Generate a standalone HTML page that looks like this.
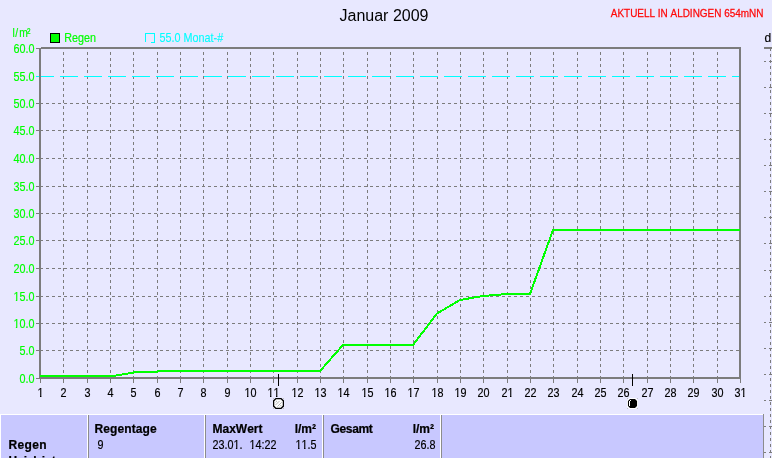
<!DOCTYPE html>
<html lang="de"><head><meta charset="utf-8"><title>Januar 2009 - Regen</title>
<style>
html,body{margin:0;padding:0;background:#e8e8ff;overflow:hidden}
svg{display:block;will-change:transform}
text{font-family:"Liberation Sans",sans-serif;font-size:12px;font-kerning:none}
.g{fill:#00ff00;stroke:#00ff00;stroke-width:.16px}.c{fill:#00ffff;stroke:#00ffff;stroke-width:.1px}.k{fill:#000;stroke:#000;stroke-width:.18px}
.b{font-weight:bold;fill:#000;stroke:#000;stroke-width:.22px}
.t{font-size:16px;fill:#000}
.r{font-size:11px;fill:#ff0808;stroke:#ff0808;stroke-width:.25px}
</style></head><body>
<svg width="772" height="458" viewBox="0 0 772 458">
<defs><clipPath id="k0"><rect x="-25.36" y="-12" width="27.36" height="11"/><rect x="-20.61" y="-1.2" width="1.6" height="1.4"/><rect x="-16.68" y="-1.2" width="6.67" height="5"/><rect x="-10.01" y="-1.2" width="3.33" height="5"/><rect x="-6.67" y="-1.2" width="6.67" height="5"/></clipPath><clipPath id="k1"><rect x="-25.36" y="-12" width="27.36" height="11"/><rect x="-20.61" y="-1.2" width="1.6" height="1.4"/><rect x="-16.68" y="-1.2" width="6.67" height="5"/><rect x="-10.01" y="-1.2" width="3.33" height="5"/><rect x="-6.67" y="-1.2" width="6.67" height="5"/></clipPath><clipPath id="k2"><rect x="-5.34" y="-12" width="10.67" height="11"/><rect x="-0.59" y="-1.2" width="1.6" height="1.4"/></clipPath><clipPath id="k3"><rect x="-8.67" y="-12" width="17.35" height="11"/><rect x="-3.92" y="-1.2" width="1.6" height="1.4"/><rect x="0" y="-1.2" width="6.67" height="5"/></clipPath><clipPath id="k4"><rect x="-8.67" y="-12" width="17.35" height="11"/><rect x="-3.92" y="-1.2" width="1.6" height="1.4"/><rect x="2.75" y="-1.2" width="1.6" height="1.4"/></clipPath><clipPath id="k5"><rect x="-8.67" y="-12" width="17.35" height="11"/><rect x="-3.92" y="-1.2" width="1.6" height="1.4"/><rect x="0" y="-1.2" width="6.67" height="5"/></clipPath><clipPath id="k6"><rect x="-8.67" y="-12" width="17.35" height="11"/><rect x="-3.92" y="-1.2" width="1.6" height="1.4"/><rect x="0" y="-1.2" width="6.67" height="5"/></clipPath><clipPath id="k7"><rect x="-8.67" y="-12" width="17.35" height="11"/><rect x="-3.92" y="-1.2" width="1.6" height="1.4"/><rect x="0" y="-1.2" width="6.67" height="5"/></clipPath><clipPath id="k8"><rect x="-8.67" y="-12" width="17.35" height="11"/><rect x="-3.92" y="-1.2" width="1.6" height="1.4"/><rect x="0" y="-1.2" width="6.67" height="5"/></clipPath><clipPath id="k9"><rect x="-8.67" y="-12" width="17.35" height="11"/><rect x="-3.92" y="-1.2" width="1.6" height="1.4"/><rect x="0" y="-1.2" width="6.67" height="5"/></clipPath><clipPath id="k10"><rect x="-8.67" y="-12" width="17.35" height="11"/><rect x="-3.92" y="-1.2" width="1.6" height="1.4"/><rect x="0" y="-1.2" width="6.67" height="5"/></clipPath><clipPath id="k11"><rect x="-8.67" y="-12" width="17.35" height="11"/><rect x="-3.92" y="-1.2" width="1.6" height="1.4"/><rect x="0" y="-1.2" width="6.67" height="5"/></clipPath><clipPath id="k12"><rect x="-8.67" y="-12" width="17.35" height="11"/><rect x="-3.92" y="-1.2" width="1.6" height="1.4"/><rect x="0" y="-1.2" width="6.67" height="5"/></clipPath><clipPath id="k13"><rect x="-8.67" y="-12" width="17.35" height="11"/><rect x="-6.67" y="-1.2" width="6.67" height="5"/><rect x="2.75" y="-1.2" width="1.6" height="1.4"/></clipPath><clipPath id="k14"><rect x="-8.67" y="-12" width="17.35" height="11"/><rect x="-6.67" y="-1.2" width="6.67" height="5"/><rect x="2.75" y="-1.2" width="1.6" height="1.4"/></clipPath><clipPath id="k15"><rect x="-2" y="-12" width="37.36" height="11"/><rect x="0" y="-1.2" width="6.67" height="5"/><rect x="6.67" y="-1.2" width="6.67" height="5"/><rect x="13.35" y="-1.2" width="3.33" height="5"/><rect x="16.68" y="-1.2" width="6.67" height="5"/><rect x="26.11" y="-1.2" width="1.6" height="1.4"/><rect x="30.03" y="-1.2" width="3.33" height="5"/></clipPath><clipPath id="k16"><rect x="-2" y="-12" width="34.03" height="11"/><rect x="2.75" y="-1.2" width="1.6" height="1.4"/><rect x="6.67" y="-1.2" width="6.67" height="5"/><rect x="13.35" y="-1.2" width="3.33" height="5"/><rect x="16.68" y="-1.2" width="6.67" height="5"/><rect x="23.36" y="-1.2" width="6.67" height="5"/></clipPath><clipPath id="k17"><rect x="-25.36" y="-12" width="27.36" height="11"/><rect x="-20.61" y="-1.2" width="1.6" height="1.4"/><rect x="-13.93" y="-1.2" width="1.6" height="1.4"/><rect x="-10.01" y="-1.2" width="3.33" height="5"/><rect x="-6.67" y="-1.2" width="6.67" height="5"/></clipPath></defs>
<rect x="0" y="0" width="772" height="458" fill="#e8e8ff"/>
<g shape-rendering="crispEdges" stroke="#7c7c7c" stroke-width="1" stroke-dasharray="3 3">
<line x1="63.5" y1="379" x2="63.5" y2="49"/>
<line x1="87.5" y1="379" x2="87.5" y2="49"/>
<line x1="110.5" y1="379" x2="110.5" y2="49"/>
<line x1="133.5" y1="379" x2="133.5" y2="49"/>
<line x1="157.5" y1="379" x2="157.5" y2="49"/>
<line x1="180.5" y1="379" x2="180.5" y2="49"/>
<line x1="203.5" y1="379" x2="203.5" y2="49"/>
<line x1="227.5" y1="379" x2="227.5" y2="49"/>
<line x1="250.5" y1="379" x2="250.5" y2="49"/>
<line x1="273.5" y1="379" x2="273.5" y2="49"/>
<line x1="297.5" y1="379" x2="297.5" y2="49"/>
<line x1="320.5" y1="379" x2="320.5" y2="49"/>
<line x1="343.5" y1="379" x2="343.5" y2="49"/>
<line x1="367.5" y1="379" x2="367.5" y2="49"/>
<line x1="390.5" y1="379" x2="390.5" y2="49"/>
<line x1="413.5" y1="379" x2="413.5" y2="49"/>
<line x1="437.5" y1="379" x2="437.5" y2="49"/>
<line x1="460.5" y1="379" x2="460.5" y2="49"/>
<line x1="483.5" y1="379" x2="483.5" y2="49"/>
<line x1="507.5" y1="379" x2="507.5" y2="49"/>
<line x1="530.5" y1="379" x2="530.5" y2="49"/>
<line x1="553.5" y1="379" x2="553.5" y2="49"/>
<line x1="577.5" y1="379" x2="577.5" y2="49"/>
<line x1="600.5" y1="379" x2="600.5" y2="49"/>
<line x1="623.5" y1="379" x2="623.5" y2="49"/>
<line x1="647.5" y1="379" x2="647.5" y2="49"/>
<line x1="670.5" y1="379" x2="670.5" y2="49"/>
<line x1="693.5" y1="379" x2="693.5" y2="49"/>
<line x1="717.5" y1="379" x2="717.5" y2="49"/>
<line x1="40" y1="350.5" x2="739" y2="350.5"/>
<line x1="40" y1="323.5" x2="739" y2="323.5"/>
<line x1="40" y1="296.5" x2="739" y2="296.5"/>
<line x1="40" y1="268.5" x2="739" y2="268.5"/>
<line x1="40" y1="240.5" x2="739" y2="240.5"/>
<line x1="40" y1="213.5" x2="739" y2="213.5"/>
<line x1="40" y1="186.5" x2="739" y2="186.5"/>
<line x1="40" y1="158.5" x2="739" y2="158.5"/>
<line x1="40" y1="130.5" x2="739" y2="130.5"/>
<line x1="40" y1="103.5" x2="739" y2="103.5"/>
</g>
<line shape-rendering="crispEdges" x1="36" y1="76.5" x2="739" y2="76.5" stroke="#00ffff" stroke-width="1" stroke-dasharray="18 6"/>
<g shape-rendering="crispEdges" fill="#7c7c7c">
<rect x="41" y="47" width="700" height="2"/><rect x="39" y="377" width="702" height="2"/>
<rect x="39" y="48" width="2" height="331"/><rect x="739" y="47" width="2" height="332"/>
<rect x="36" y="378" width="3" height="1"/>
<rect x="36" y="350" width="3" height="1"/>
<rect x="36" y="323" width="3" height="1"/>
<rect x="36" y="296" width="3" height="1"/>
<rect x="36" y="268" width="3" height="1"/>
<rect x="36" y="240" width="3" height="1"/>
<rect x="36" y="213" width="3" height="1"/>
<rect x="36" y="186" width="3" height="1"/>
<rect x="36" y="158" width="3" height="1"/>
<rect x="36" y="130" width="3" height="1"/>
<rect x="36" y="103" width="3" height="1"/>
<rect x="36" y="48" width="3" height="1"/>
<rect x="40" y="379" width="1" height="4"/>
<rect x="63" y="379" width="1" height="4"/>
<rect x="87" y="379" width="1" height="4"/>
<rect x="110" y="379" width="1" height="4"/>
<rect x="133" y="379" width="1" height="4"/>
<rect x="157" y="379" width="1" height="4"/>
<rect x="180" y="379" width="1" height="4"/>
<rect x="203" y="379" width="1" height="4"/>
<rect x="227" y="379" width="1" height="4"/>
<rect x="250" y="379" width="1" height="4"/>
<rect x="273" y="379" width="1" height="4"/>
<rect x="297" y="379" width="1" height="4"/>
<rect x="320" y="379" width="1" height="4"/>
<rect x="343" y="379" width="1" height="4"/>
<rect x="367" y="379" width="1" height="4"/>
<rect x="390" y="379" width="1" height="4"/>
<rect x="413" y="379" width="1" height="4"/>
<rect x="437" y="379" width="1" height="4"/>
<rect x="460" y="379" width="1" height="4"/>
<rect x="483" y="379" width="1" height="4"/>
<rect x="507" y="379" width="1" height="4"/>
<rect x="530" y="379" width="1" height="4"/>
<rect x="553" y="379" width="1" height="4"/>
<rect x="577" y="379" width="1" height="4"/>
<rect x="600" y="379" width="1" height="4"/>
<rect x="623" y="379" width="1" height="4"/>
<rect x="647" y="379" width="1" height="4"/>
<rect x="670" y="379" width="1" height="4"/>
<rect x="693" y="379" width="1" height="4"/>
<rect x="717" y="379" width="1" height="4"/>
<rect x="740" y="379" width="1" height="4"/>
</g>
<polyline shape-rendering="crispEdges" fill="none" stroke="#00ff00" stroke-width="2" stroke-linejoin="miter" points="40,376 113.4,376 136.4,372 156.5,372 158.5,371 320,371 343,345 413,345 437,313.5 460,300 483,296 507,294 530,294 553,230 740,230"/>
<g shape-rendering="crispEdges" fill="#000"><rect x="278" y="374" width="1" height="12"/><rect x="632" y="374" width="1" height="12"/></g>
<g shape-rendering="crispEdges" fill="#bcbcbc" fill-opacity=".9"><rect x="273" y="398" width="1" height="1"/><rect x="283" y="398" width="1" height="1"/><rect x="273" y="408" width="1" height="1"/><rect x="283" y="408" width="1" height="1"/><rect x="627" y="398" width="1" height="1"/><rect x="637" y="398" width="1" height="1"/><rect x="627" y="408" width="1" height="1"/><rect x="637" y="408" width="1" height="1"/></g>
<path d="M275.6 398L281.4 398L284 400.6L284 406.4L281.4 409L275.6 409L273 406.4L273 400.6Z" fill="#000"/><path d="M276.2 399.25L280.8 399.25L282.75 401.2L282.75 405.8L280.8 407.75L276.2 407.75L274.25 405.8L274.25 401.2Z" fill="#fff"/>
<path d="M275.3 405.2L279.6 400.9M277.4 406.6L281.7 402.3M275.6 402.2L277 400.8M280 406.4L281.4 405" fill="none" stroke="#6a6a6a" stroke-width=".7" stroke-opacity=".7"/>
<path d="M276.2 401.2L280.8 405.8" fill="none" stroke="#9a9a9a" stroke-width=".6" stroke-opacity=".5" stroke-dasharray="1 1"/>
<path d="M629.5 397.95L635.5 397.95L638.05 400.5L638.05 406.5L635.5 409.05L629.5 409.05L626.95 406.5L626.95 400.5Z" fill="#fff"/><path d="M630 398.95L635 398.95L637.05 401L637.05 406L635 408.05L630 408.05L627.95 406L627.95 401Z" fill="#000"/>
<g shape-rendering="crispEdges" fill="#fff"><rect x="630" y="400" width="1" height="1"/><rect x="629" y="401" width="1" height="5"/></g>
<text class="t" x="384" y="21" text-anchor="middle">Januar 2009</text>
<text class="r" transform="translate(610.8,17) scale(.905,1)">AKTUELL IN ALDINGEN 654mNN</text>
<text class="g" transform="translate(12.6,37) scale(.86,1)" dx="0 .5 1.3 -1.1">l/m²</text>
<g shape-rendering="crispEdges"><rect x="50" y="33" width="10" height="10" fill="#000"/><rect x="51" y="34" width="8" height="8" fill="#00ff00"/></g>
<text class="g" transform="translate(64.2,42) scale(0.9,1)">Regen</text>
<g shape-rendering="crispEdges" fill="#00ffff"><rect x="145" y="33" width="1" height="9"/><rect x="145" y="33" width="10" height="1"/><rect x="154" y="33" width="1" height="10"/><rect x="151" y="42" width="4" height="1"/></g>
<text class="c" transform="translate(159.6,42) scale(0.9,1)">55.0 Monat-#</text>
<text class="g" transform="translate(34.4,383) scale(0.9,1)" text-anchor="end">0.0</text>
<text class="g" transform="translate(34.4,355) scale(0.9,1)" text-anchor="end">5.0</text>
<text class="g" transform="translate(34.4,328) scale(0.9,1)" text-anchor="end" clip-path="url(#k0)">10.0</text>
<text class="g" transform="translate(34.4,301) scale(0.9,1)" text-anchor="end" clip-path="url(#k1)">15.0</text>
<text class="g" transform="translate(34.4,273) scale(0.9,1)" text-anchor="end">20.0</text>
<text class="g" transform="translate(34.4,245) scale(0.9,1)" text-anchor="end">25.0</text>
<text class="g" transform="translate(34.4,218) scale(0.9,1)" text-anchor="end">30.0</text>
<text class="g" transform="translate(34.4,191) scale(0.9,1)" text-anchor="end">35.0</text>
<text class="g" transform="translate(34.4,163) scale(0.9,1)" text-anchor="end">40.0</text>
<text class="g" transform="translate(34.4,135) scale(0.9,1)" text-anchor="end">45.0</text>
<text class="g" transform="translate(34.4,108) scale(0.9,1)" text-anchor="end">50.0</text>
<text class="g" transform="translate(34.4,81) scale(0.9,1)" text-anchor="end">55.0</text>
<text class="g" transform="translate(34.4,53) scale(0.9,1)" text-anchor="end">60.0</text>
<text class="k" transform="translate(40.5,397) scale(0.9,1)" text-anchor="middle" clip-path="url(#k2)">1</text>
<text class="k" transform="translate(63.5,397) scale(0.9,1)" text-anchor="middle">2</text>
<text class="k" transform="translate(87.5,397) scale(0.9,1)" text-anchor="middle">3</text>
<text class="k" transform="translate(110.5,397) scale(0.9,1)" text-anchor="middle">4</text>
<text class="k" transform="translate(133.5,397) scale(0.9,1)" text-anchor="middle">5</text>
<text class="k" transform="translate(157.5,397) scale(0.9,1)" text-anchor="middle">6</text>
<text class="k" transform="translate(180.5,397) scale(0.9,1)" text-anchor="middle">7</text>
<text class="k" transform="translate(203.5,397) scale(0.9,1)" text-anchor="middle">8</text>
<text class="k" transform="translate(227.5,397) scale(0.9,1)" text-anchor="middle">9</text>
<text class="k" transform="translate(250.5,397) scale(0.9,1)" text-anchor="middle" clip-path="url(#k3)">10</text>
<text class="k" transform="translate(273.5,397) scale(0.9,1)" text-anchor="middle" clip-path="url(#k4)">11</text>
<text class="k" transform="translate(297.5,397) scale(0.9,1)" text-anchor="middle" clip-path="url(#k5)">12</text>
<text class="k" transform="translate(320.5,397) scale(0.9,1)" text-anchor="middle" clip-path="url(#k6)">13</text>
<text class="k" transform="translate(343.5,397) scale(0.9,1)" text-anchor="middle" clip-path="url(#k7)">14</text>
<text class="k" transform="translate(367.5,397) scale(0.9,1)" text-anchor="middle" clip-path="url(#k8)">15</text>
<text class="k" transform="translate(390.5,397) scale(0.9,1)" text-anchor="middle" clip-path="url(#k9)">16</text>
<text class="k" transform="translate(413.5,397) scale(0.9,1)" text-anchor="middle" clip-path="url(#k10)">17</text>
<text class="k" transform="translate(437.5,397) scale(0.9,1)" text-anchor="middle" clip-path="url(#k11)">18</text>
<text class="k" transform="translate(460.5,397) scale(0.9,1)" text-anchor="middle" clip-path="url(#k12)">19</text>
<text class="k" transform="translate(483.5,397) scale(0.9,1)" text-anchor="middle">20</text>
<text class="k" transform="translate(507.5,397) scale(0.9,1)" text-anchor="middle" clip-path="url(#k13)">21</text>
<text class="k" transform="translate(530.5,397) scale(0.9,1)" text-anchor="middle">22</text>
<text class="k" transform="translate(553.5,397) scale(0.9,1)" text-anchor="middle">23</text>
<text class="k" transform="translate(577.5,397) scale(0.9,1)" text-anchor="middle">24</text>
<text class="k" transform="translate(600.5,397) scale(0.9,1)" text-anchor="middle">25</text>
<text class="k" transform="translate(623.5,397) scale(0.9,1)" text-anchor="middle">26</text>
<text class="k" transform="translate(647.5,397) scale(0.9,1)" text-anchor="middle">27</text>
<text class="k" transform="translate(670.5,397) scale(0.9,1)" text-anchor="middle">28</text>
<text class="k" transform="translate(693.5,397) scale(0.9,1)" text-anchor="middle">29</text>
<text class="k" transform="translate(717.5,397) scale(0.9,1)" text-anchor="middle">30</text>
<text class="k" transform="translate(740.5,397) scale(0.9,1)" text-anchor="middle" clip-path="url(#k14)">31</text>
<text class="k" transform="translate(764.6,42) scale(1,1)">d</text>
<g shape-rendering="crispEdges" fill="#7c7c7c">
<rect x="764" y="47" width="8" height="2"/>
<line x1="770.5" y1="48" x2="770.5" y2="458" stroke="#7c7c7c" stroke-width="1" stroke-dasharray="3 3"/>
<rect x="764" y="61" width="2" height="1"/><rect x="769" y="61" width="3" height="1"/>
<rect x="764" y="87" width="2" height="1"/><rect x="769" y="87" width="3" height="1"/>
<rect x="764" y="113" width="2" height="1"/><rect x="769" y="113" width="3" height="1"/>
<rect x="764" y="139" width="2" height="1"/><rect x="769" y="139" width="3" height="1"/>
<rect x="764" y="165" width="2" height="1"/><rect x="769" y="165" width="3" height="1"/>
<rect x="764" y="191" width="2" height="1"/><rect x="769" y="191" width="3" height="1"/>
<rect x="764" y="217" width="2" height="1"/><rect x="769" y="217" width="3" height="1"/>
<rect x="764" y="243" width="2" height="1"/><rect x="769" y="243" width="3" height="1"/>
<rect x="764" y="270" width="2" height="1"/><rect x="769" y="270" width="3" height="1"/>
<rect x="764" y="296" width="2" height="1"/><rect x="769" y="296" width="3" height="1"/>
<rect x="764" y="322" width="2" height="1"/><rect x="769" y="322" width="3" height="1"/>
<rect x="764" y="348" width="2" height="1"/><rect x="769" y="348" width="3" height="1"/>
<rect x="764" y="374" width="2" height="1"/><rect x="769" y="374" width="3" height="1"/>
<rect x="764" y="400" width="2" height="1"/><rect x="769" y="400" width="3" height="1"/>
<rect x="764" y="426" width="2" height="1"/><rect x="769" y="426" width="3" height="1"/>
<rect x="764" y="452" width="2" height="1"/><rect x="769" y="452" width="3" height="1"/>
</g>
<g shape-rendering="crispEdges">
<rect x="0" y="414" width="763" height="44" fill="#fff"/>
<rect x="1" y="415" width="762" height="43" fill="#c8c8ff"/>
<rect x="87" y="414" width="1" height="44" fill="#fff"/><rect x="88" y="415" width="1" height="43" fill="#8c8c8c"/>
<rect x="204" y="414" width="1" height="44" fill="#fff"/><rect x="205" y="415" width="1" height="43" fill="#8c8c8c"/>
<rect x="322" y="414" width="1" height="44" fill="#fff"/><rect x="323" y="415" width="1" height="43" fill="#8c8c8c"/>
<rect x="440" y="414" width="1" height="44" fill="#fff"/><rect x="441" y="415" width="1" height="43" fill="#8c8c8c"/>
<rect x="763" y="414" width="1" height="44" fill="#8c8c8c"/>
</g>
<text class="b" x="94.5" y="433" style="letter-spacing:.1px">Regentage</text>
<text class="b" x="212.5" y="433">MaxWert</text>
<text class="b" x="316" y="433" text-anchor="end">l/m²</text>
<text class="b" x="330.5" y="433" style="letter-spacing:-0.35px">Gesamt</text>
<text class="b" x="434" y="433" text-anchor="end">l/m²</text>
<text class="b" x="8.5" y="449" style="letter-spacing:.35px">Regen</text>
<text class="k" transform="translate(97.5,449) scale(0.9,1)">9</text>
<text class="k" transform="translate(212.4,449) scale(0.9,1)" clip-path="url(#k15)">23.01.</text>
<text class="k" transform="translate(249.4,449) scale(0.9,1)" clip-path="url(#k16)">14:22</text>
<text class="k" transform="translate(316.6,449) scale(0.9,1)" text-anchor="end" clip-path="url(#k17)">11.5</text>
<text class="k" transform="translate(435.4,449) scale(0.9,1)" text-anchor="end">26.8</text>
<text class="b" x="8.5 17.6 23.7 27.5 33.3 36.8 41.8 45.6 51.8 56 63 70" y="464.7">Heizleistung</text>
</svg></body></html>
